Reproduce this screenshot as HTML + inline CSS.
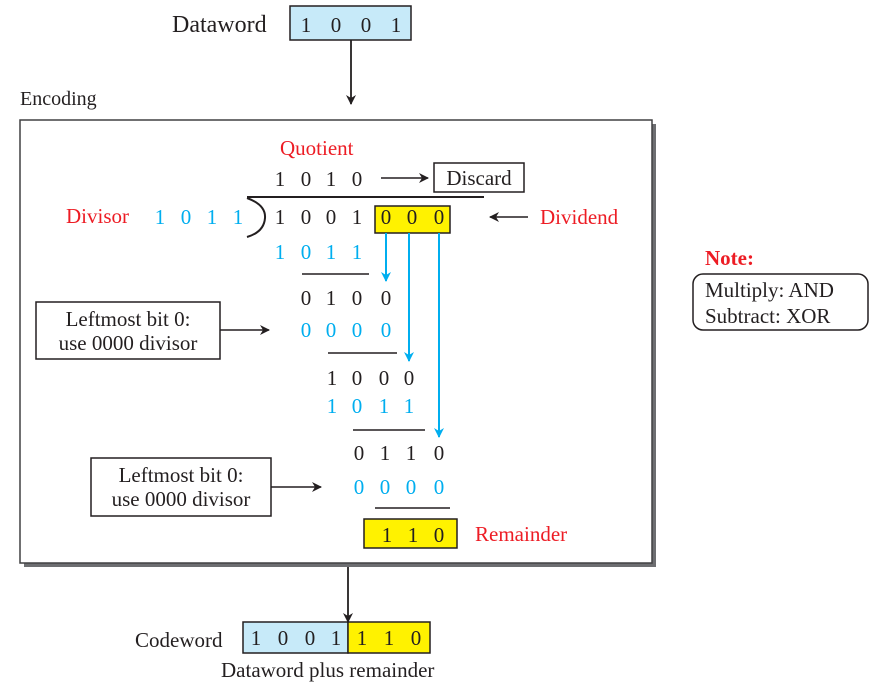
<!DOCTYPE html>
<html><head><meta charset="utf-8"><style>
html,body{margin:0;padding:0;background:#fff;}
svg{display:block;}
text{font-family:"Liberation Serif",serif;font-size:21px;fill:#231f20;}
.b{fill:#00aeef;}
.r{fill:#ed1c24;}
</style></head><body>
<svg width="872" height="690" viewBox="0 0 872 690" xmlns="http://www.w3.org/2000/svg">
<defs>
<marker id="ak" markerWidth="10" markerHeight="10" refX="9" refY="5" orient="auto" markerUnits="userSpaceOnUse"><path d="M0,0 L10,5 L0,10 L3,5 z" fill="#231f20"/></marker>
<marker id="ab" markerWidth="10" markerHeight="10" refX="9" refY="5" orient="auto" markerUnits="userSpaceOnUse"><path d="M0,0 L10,5 L0,10 L3,5 z" fill="#00aeef"/></marker>
</defs>
<!-- Dataword -->
<text x="172" y="32" style="font-size:24px">Dataword</text>
<rect x="290" y="6" width="121" height="34" fill="#c7eaf9" stroke="#231f20" stroke-width="1.5"/>
<g style="font-size:24px" text-anchor="middle"><text x="306" y="32">1</text><text x="336" y="32">0</text><text x="366" y="32">0</text><text x="396" y="32">1</text></g>
<line x1="351" y1="40" x2="351" y2="104" stroke="#231f20" stroke-width="1.8" marker-end="url(#ak)"/>
<text x="20" y="105" style="font-size:20px">Encoding</text>
<!-- main box -->
<rect x="24" y="124" width="632" height="443" fill="#6d6e71"/>
<rect x="20" y="120" width="632" height="443" fill="#fff" stroke="#414042" stroke-width="1.5"/>
<text x="280" y="155" class="r">Quotient</text>
<g text-anchor="middle"><text x="280" y="186">1</text><text x="306" y="186">0</text><text x="331" y="186">1</text><text x="357" y="186">0</text></g>
<line x1="381" y1="178" x2="428" y2="178" stroke="#231f20" stroke-width="1.5" marker-end="url(#ak)"/>
<rect x="434" y="163" width="90" height="29" fill="#fff" stroke="#231f20" stroke-width="1.5"/>
<text x="479" y="185" text-anchor="middle">Discard</text>
<line x1="247" y1="197" x2="484" y2="197" stroke="#231f20" stroke-width="2"/>
<path d="M247,198 Q266,205 265,218 Q264,232 247,237" fill="none" stroke="#231f20" stroke-width="2"/>
<text x="66" y="223" class="r">Divisor</text>
<g text-anchor="middle" class="b"><text class="b" x="160" y="224">1</text><text class="b" x="186" y="224">0</text><text class="b" x="212" y="224">1</text><text class="b" x="238" y="224">1</text></g>
<rect x="375" y="206" width="75" height="27" fill="#fff200" stroke="#231f20" stroke-width="1.5"/>
<g text-anchor="middle"><text x="280" y="224">1</text><text x="306" y="224">0</text><text x="331" y="224">0</text><text x="357" y="224">1</text><text x="386" y="224">0</text><text x="412" y="224">0</text><text x="439" y="224">0</text></g>
<line x1="528" y1="217" x2="490" y2="217" stroke="#231f20" stroke-width="1.5" marker-end="url(#ak)"/>
<text x="540" y="224" class="r">Dividend</text>
<g text-anchor="middle"><text class="b" x="280" y="259">1</text><text class="b" x="306" y="259">0</text><text class="b" x="331" y="259">1</text><text class="b" x="357" y="259">1</text></g>
<line x1="386" y1="233" x2="386" y2="281" stroke="#00aeef" stroke-width="2" marker-end="url(#ab)"/>
<line x1="409" y1="233" x2="409" y2="361" stroke="#00aeef" stroke-width="2" marker-end="url(#ab)"/>
<line x1="439" y1="233" x2="439" y2="437" stroke="#00aeef" stroke-width="2" marker-end="url(#ab)"/>
<line x1="302" y1="274" x2="369" y2="274" stroke="#231f20" stroke-width="1.5"/>
<g text-anchor="middle"><text x="306" y="305">0</text><text x="331" y="305">1</text><text x="357" y="305">0</text><text x="386" y="305">0</text></g>
<g text-anchor="middle"><text class="b" x="306" y="337">0</text><text class="b" x="331" y="337">0</text><text class="b" x="357" y="337">0</text><text class="b" x="386" y="337">0</text></g>
<rect x="36" y="302" width="184" height="57" fill="#fff" stroke="#231f20" stroke-width="1.5"/>
<text x="128" y="326" text-anchor="middle">Leftmost bit 0:</text>
<text x="128" y="350" text-anchor="middle">use 0000 divisor</text>
<line x1="220" y1="330" x2="269" y2="330" stroke="#231f20" stroke-width="1.5" marker-end="url(#ak)"/>
<line x1="328" y1="353" x2="397" y2="353" stroke="#231f20" stroke-width="1.5"/>
<g text-anchor="middle"><text x="332" y="385">1</text><text x="357" y="385">0</text><text x="384" y="385">0</text><text x="409" y="385">0</text></g>
<g text-anchor="middle"><text class="b" x="332" y="413">1</text><text class="b" x="357" y="413">0</text><text class="b" x="384" y="413">1</text><text class="b" x="409" y="413">1</text></g>
<line x1="353" y1="430" x2="425" y2="430" stroke="#231f20" stroke-width="1.5"/>
<g text-anchor="middle"><text x="359" y="460">0</text><text x="385" y="460">1</text><text x="411" y="460">1</text><text x="439" y="460">0</text></g>
<g text-anchor="middle"><text class="b" x="359" y="494">0</text><text class="b" x="385" y="494">0</text><text class="b" x="411" y="494">0</text><text class="b" x="439" y="494">0</text></g>
<rect x="91" y="458" width="180" height="58" fill="#fff" stroke="#231f20" stroke-width="1.5"/>
<text x="181" y="482" text-anchor="middle">Leftmost bit 0:</text>
<text x="181" y="506" text-anchor="middle">use 0000 divisor</text>
<line x1="271" y1="487" x2="321" y2="487" stroke="#231f20" stroke-width="1.5" marker-end="url(#ak)"/>
<line x1="375" y1="508" x2="450" y2="508" stroke="#231f20" stroke-width="1.5"/>
<rect x="364" y="519" width="93" height="29" fill="#fff200" stroke="#231f20" stroke-width="1.5"/>
<g text-anchor="middle"><text x="387" y="542">1</text><text x="413" y="542">1</text><text x="439" y="542">0</text></g>
<text x="475" y="541" class="r">Remainder</text>
<!-- codeword -->
<line x1="348" y1="567" x2="348" y2="622" stroke="#231f20" stroke-width="1.8" marker-end="url(#ak)"/>
<text x="135" y="647">Codeword</text>
<rect x="243" y="622" width="105" height="31" fill="#c7eaf9" stroke="#231f20" stroke-width="1.5"/>
<rect x="348" y="622" width="82" height="31" fill="#fff200" stroke="#231f20" stroke-width="1.5"/>
<g text-anchor="middle"><text x="256" y="645">1</text><text x="283" y="645">0</text><text x="310" y="645">0</text><text x="336" y="645">1</text><text x="362" y="645">1</text><text x="389" y="645">1</text><text x="416" y="645">0</text></g>
<text x="221" y="677">Dataword plus remainder</text>
<!-- note -->
<text x="705" y="265" class="r" style="font-weight:bold">Note:</text>
<rect x="693" y="274" width="175" height="56" rx="10" fill="#fff" stroke="#231f20" stroke-width="1.5"/>
<text x="705" y="297">Multiply: AND</text>
<text x="705" y="323">Subtract: XOR</text>
</svg>
</body></html>
